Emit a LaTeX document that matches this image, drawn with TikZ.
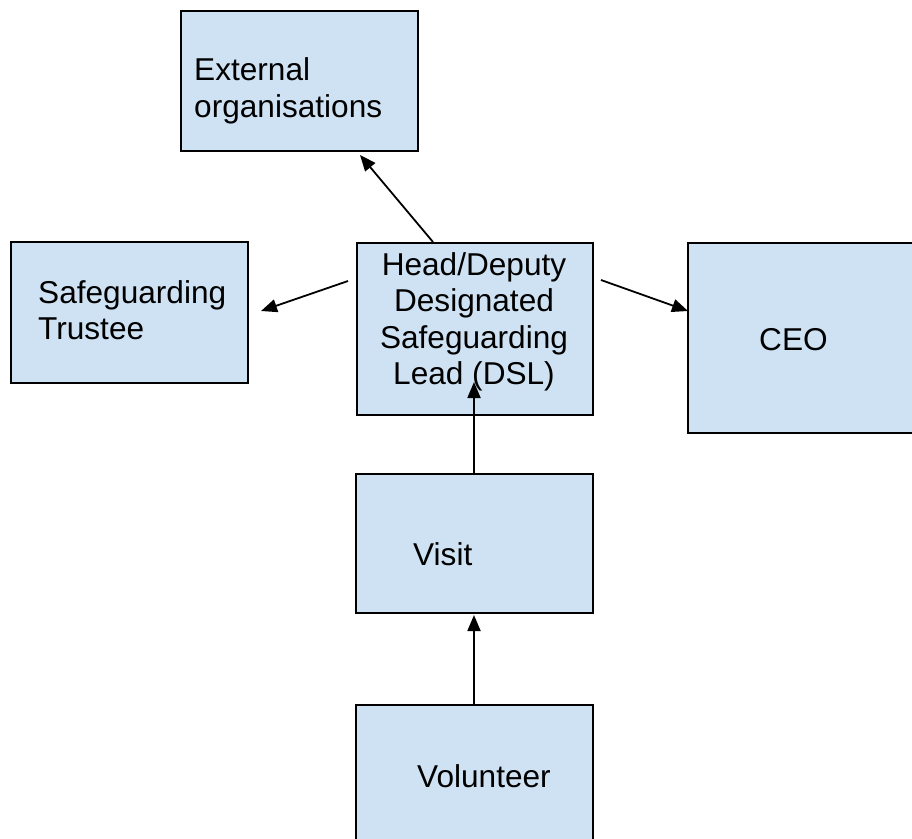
\documentclass[tikz,border=0pt]{standalone}
\usepackage{fontspec}
\setmainfont{Liberation Sans}
\usetikzlibrary{arrows.meta,calc}
\definecolor{boxfill}{HTML}{CFE2F3}
\tikzset{
  box/.style={draw=black,fill=boxfill,line width=2pt,rectangle,inner sep=0pt,anchor=north west},
  lbl/.style={inner sep=0pt,font=\fontsize{31.6}{36.5}\selectfont},
  conn/.style={line width=1.8pt,-{Triangle[length=16pt,width=13pt]}}
}
\begin{document}
\begin{tikzpicture}[x=1pt,y=-1pt]
\useasboundingbox (0,0) rectangle (912,838);
\clip (0,0) rectangle (912,838);
\fill[white] (0,0) rectangle (912,838);
% boxes
\node[box,minimum width=237pt,minimum height=140pt] (ext) at (180,10) {};
\node[box,minimum width=237pt,minimum height=141pt] (trus) at (10,241) {};
\node[box,minimum width=236pt,minimum height=172pt] (dsl) at (356,242) {};
\node[box,minimum width=260pt,minimum height=190pt] (ceo) at (687,242) {};
\node[box,minimum width=237pt,minimum height=139pt] (visit) at (355,473) {};
\node[box,minimum width=237pt,minimum height=160pt] (vol) at (355,704) {};
% texts
\node[lbl,anchor=west,align=left] (extt) at (194,91) {External\\organisations};
\node[lbl,anchor=west,align=left] (trust) at (38,310) {Safeguarding\\Trustee};
\node[lbl,align=center] (dslt) at (474,322) {Head/Deputy\\Designated\\Safeguarding\\Lead (DSL)};
\node[lbl,anchor=base west] (ceot) at (759,350) {CEO};
\node[lbl,anchor=base west] (visitt) at (413,565) {Visit};
\node[lbl,anchor=base west] (volt) at (417,787) {Volunteer};
% connector endpoints
\coordinate (a1) at ($(dsl.north west)+(77,0)$);
\coordinate (a2) at ($(ext.south west)+(180,3)$);
\coordinate (b1) at ($(dsl.north west)+(-8,39)$);
\coordinate (b2) at ($(trus.north east)+(12,70)$);
\coordinate (c1) at ($(dsl.north east)+(7,38)$);
\coordinate (c2) at ($(ceo.north west)+(1,69)$);
\coordinate (d1) at ($(visit.north west)+(119,0)$);
\coordinate (d2) at ($(dsl.north west)+(118,140)$);
\coordinate (e1) at ($(vol.north west)+(119,0)$);
\coordinate (e2) at ($(visit.south west)+(119,1)$);
\draw[conn] (a1) -- (a2);
\draw[conn] (b1) -- (b2);
\draw[conn] (c1) -- (c2);
\draw[conn] (d1) -- (d2);
\draw[conn] (e1) -- (e2);
\end{tikzpicture}
\end{document}
